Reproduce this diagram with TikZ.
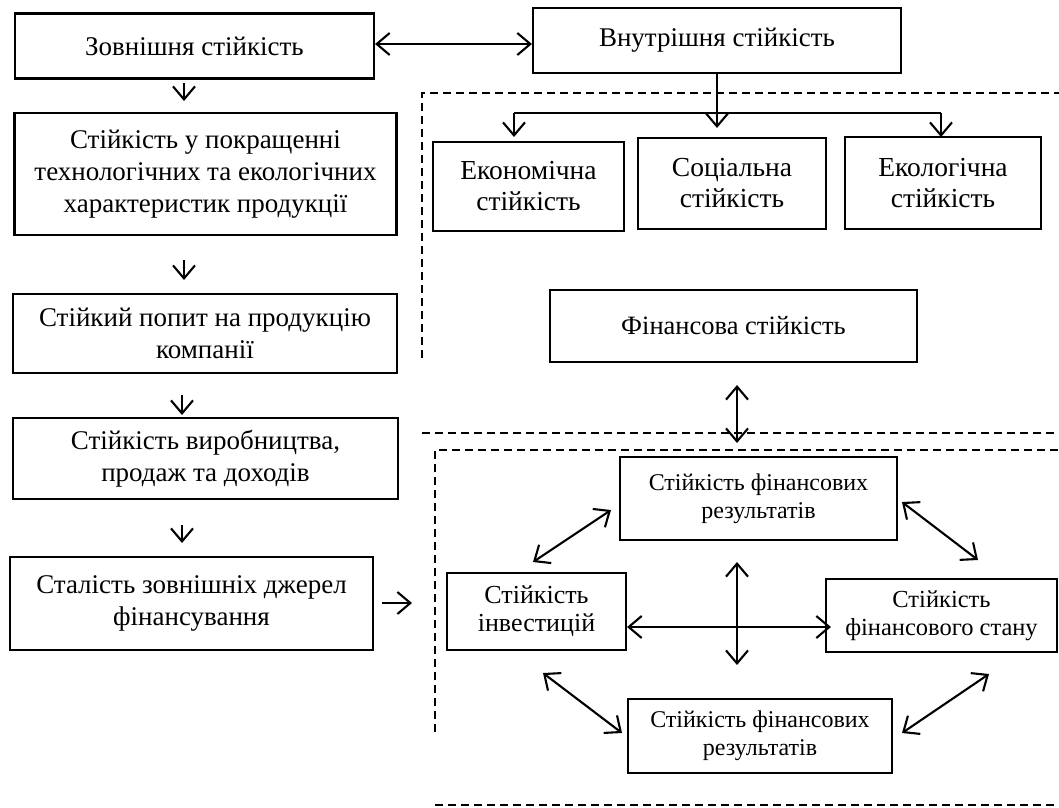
\documentclass[tikz,border=0pt]{standalone}
\usepackage{fontspec}
\setmainfont{Liberation Serif}
\usetikzlibrary{arrows.meta}
\tikzset{
  box/.style={draw, line width=2.1pt, inner sep=0pt, align=center},
  bigf/.style={font=\fontsize{27}{32}\selectfont},
  midf/.style={font=\fontsize{27.5}{31}\selectfont},
  finf/.style={font=\fontsize{26.5}{30}\selectfont},
  smf/.style={font=\fontsize{26}{28}\selectfont},
  fsf/.style={font=\fontsize{24.5}{28}\selectfont},
  frf/.style={font=\fontsize{24}{28}\selectfont},
  arr/.style={line width=2.1pt, -{Straight Barb[length=13pt,width=22pt]}},
  darr/.style={line width=2.1pt, {Straight Barb[length=13pt,width=22pt]}-{Straight Barb[length=13pt,width=22pt]}},
  plain/.style={line width=2.1pt},
  dsh/.style={line width=1.4pt, dash pattern=on 8pt off 5pt}
}
\begin{document}
\begin{tikzpicture}[x=1pt,y=-1pt]
\useasboundingbox (0,0) rectangle (1059,807);
% left column
\node[box,bigf,minimum width=359pt,minimum height=65pt] (zov) at (194.5,46) {Зовнішня стійкість};
\node[box,bigf,minimum width=382pt,minimum height=122pt] (b2) at (205.5,174) {Стійкість у покращенні\\технологічних та екологічних\\характеристик продукції};
\node[box,bigf,minimum width=384pt,minimum height=79pt] (b3) at (205,333.5) {Стійкий попит на продукцію\\компанії};
\node[box,bigf,minimum width=385pt,minimum height=81pt] (b4) at (205.5,458.5) {Стійкість виробництва,\\продаж та доходів};
\node[box,bigf,minimum width=363pt,minimum height=93pt] (b5) at (191.5,603.5) {Сталість зовнішніх джерел\\фінансування};
% right top
\node[box,bigf,minimum width=368pt,minimum height=65pt] (vn) at (717,40.5) {Внутрішня стійкість};
\node[box,midf,minimum width=191pt,minimum height=89pt] (econ) at (528.5,186.5) {Економічна\\стійкість};
\node[box,midf,minimum width=188pt,minimum height=91pt] (soc) at (732,183.5) {Соціальна\\стійкість};
\node[box,midf,minimum width=196pt,minimum height=92pt] (eco) at (943,183) {Екологічна\\стійкість};
\node[box,finf,minimum width=367pt,minimum height=72pt] (fin) at (733.5,326) {Фінансова стійкість};
% right bottom
\node[box,frf,minimum width=277pt,minimum height=83pt] (fr1) at (758.5,498.5) {Стійкість фінансових\\результатів};
\node[box,smf,minimum width=179pt,minimum height=77pt] (inv) at (536.5,611.5) {Стійкість\\інвестицій};
\node[box,fsf,minimum width=231pt,minimum height=73pt] (fs) at (941.5,615.5) {Стійкість\\фінансового стану};
\node[box,frf,minimum width=264pt,minimum height=74pt] (fr2) at (760,736) {Стійкість фінансових\\результатів};
% dashed frames
\draw[dsh] (422,358) -- (422,93) -- (1059,93);
\draw[dsh] (422,433) -- (1059,433);
\draw[dsh] (435,732) -- (435,450) -- (1059,450);
\draw[dsh] (435,805) -- (1059,805);
% top connector
\draw[darr] (zov.east |- 0,44) -- (vn.west |- 0,44);
% left chain arrows
\coordinate (a1s) at (184,83);  \coordinate (a1e) at (184,101);
\coordinate (a2s) at (184,260); \coordinate (a2e) at (184,280);
\coordinate (a3s) at (182,395); \coordinate (a3e) at (182,415);
\coordinate (a4s) at (182,525); \coordinate (a4e) at (182,543);
\draw[arr] (a1s) -- (a1e);
\draw[arr] (a2s) -- (a2e);
\draw[arr] (a3s) -- (a3e);
\draw[arr] (a4s) -- (a4e);
\coordinate (r5s) at (382,603);
\coordinate (r5e) at (412,603);
\draw[arr] (r5s) -- (r5e);
% branch from internal
\coordinate (brL) at (514,113);
\coordinate (brR) at (941,113);
\draw[plain] (brL) -- (brR);
\draw[arr] (vn.south) -- (717,128);
\draw[arr] (brL) -- (514,137);
\draw[arr] (brR) -- (941,137);
% financial double arrow
\coordinate (f1) at (737,385); \coordinate (f2) at (737,443);
\draw[darr] (f1) -- (f2);
% inner connectors
\coordinate (d1a) at (533,562); \coordinate (d1b) at (611,510);
\coordinate (d2a) at (902,502); \coordinate (d2b) at (978,560);
\coordinate (d3a) at (543,673); \coordinate (d3b) at (622,733);
\coordinate (d4a) at (902,733); \coordinate (d4b) at (989,674);
\coordinate (v1) at (737,562); \coordinate (v2) at (737,665);
\draw[darr] (d1a) -- (d1b);
\draw[darr] (d2a) -- (d2b);
\draw[darr] (d3a) -- (d3b);
\draw[darr] (d4a) -- (d4b);
\draw[darr] (v1) -- (v2);
\draw[darr] (inv.east |- 0,627) -- ([xshift=6pt]fs.west |- 0,627);
\end{tikzpicture}
\end{document}
